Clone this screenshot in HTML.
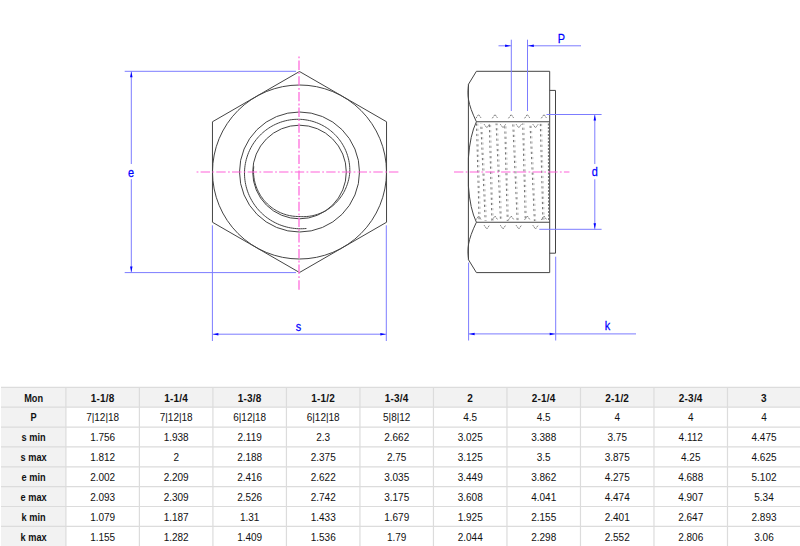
<!DOCTYPE html>
<html><head><meta charset="utf-8"><style>
html,body{margin:0;padding:0;background:#fff;}
body{width:800px;height:546px;overflow:hidden;position:relative;}
svg{position:absolute;left:0;top:0;}
</style></head><body>
<svg width="800" height="546" viewBox="0 0 800 546">
<polygon points="299.5,71.5 386.54,121.75 386.54,222.25 299.5,272.5 212.46,222.25 212.46,121.75" fill="none" stroke="#444" stroke-width="1.0"/>
<circle cx="299.5" cy="172" r="87" fill="none" stroke="#444" stroke-width="1.0"/>
<circle cx="299.5" cy="172" r="60" fill="none" stroke="#444" stroke-width="1.0"/>
<circle cx="299.5" cy="172" r="46.8" fill="none" stroke="#444" stroke-width="1.0"/>
<path d="M306.43,228.48 L304.46,228.64 L302.47,228.74 L300.49,228.77 L298.51,228.73 L296.53,228.63 L294.56,228.45 L292.6,228.2 L290.65,227.89 L288.71,227.51 L286.79,227.06 L284.88,226.54 L283,225.96 L281.14,225.32 L279.31,224.61 L277.5,223.84 L275.72,223 L273.97,222.1 L272.26,221.15 L270.58,220.13 L268.94,219.06 L267.34,217.94 L265.78,216.75 L264.26,215.52 L262.79,214.23 L261.36,212.9 L259.99,211.51 L258.66,210.08 L257.38,208.61 L256.16,207.09 L255,205.54 L253.89,203.94 L252.83,202.31 L251.84,200.64 L250.9,198.94 L250.02,197.21 L249.21,195.45 L248.46,193.67 L247.77,191.86 L247.14,190.03 L246.58,188.18 L246.09,186.31 L245.66,184.43 L245.3,182.54 L245,180.63 L244.77,178.72 L244.61,176.8 L244.52,174.88 L244.49,172.96 L244.53,171.04 L244.65,169.13 L244.84,167.22 L245.09,165.32 L245.4,163.43 L245.79,161.56 L246.23,159.7 L246.74,157.86 L247.32,156.05 L247.96,154.25 L248.65,152.48 L249.41,150.74 L250.23,149.03 L251.11,147.34 L252.04,145.69 L253.03,144.08 L254.08,142.5 L255.18,140.97 L256.33,139.47 L257.53,138.01 L258.78,136.6 L260.08,135.24 L261.42,133.92 L262.81,132.65 L264.24,131.44 L265.71,130.27 L267.22,129.16 L268.76,128.1 L270.34,127.09 L271.95,126.15 L273.59,125.26 L275.26,124.43 L276.96,123.66 L278.68,122.95 L280.42,122.3 L282.18,121.71 L283.96,121.19 L285.76,120.73 L287.57,120.33 L289.39,119.99 L291.22,119.72 L293.06,119.52 L294.9,119.37 L296.74,119.3 L298.58,119.28 L300.42,119.33 L302.25,119.45 L304.08,119.63 L305.9,119.88 L307.71,120.19 L309.5,120.56 L311.28,120.99 L313.04,121.48 L314.78,122.04 L316.49,122.65 L318.19,123.32 L319.85,124.05 L321.49,124.84 L323.1,125.69 L324.67,126.58 L326.22,127.54 L327.72,128.54 L329.19,129.6 L330.62,130.7 L332.01,131.85 L333.36,133.05 L334.66,134.3 L335.92,135.58 L337.13,136.91 L338.29,138.28 L339.4,139.69 L340.46,141.13 L341.47,142.61 L342.42,144.13 L343.32,145.67 L344.17,147.24 L344.96,148.84 L345.69,150.46 L346.37,152.11 L346.98,153.77 L347.54,155.46 L348.04,157.16 L348.47,158.88 L348.85,160.61 L349.16,162.35 L349.42,164.09 L349.61,165.85 L349.74,167.6 L349.81,169.36 L349.82,171.12 L349.73,172.88 L349.54,174.62 L349.29,176.36 L348.98,178.08 L348.61,179.78 L348.18,181.46 L347.69,183.13 L347.15,184.77 L346.55,186.39 L345.9,187.98 L345.2,189.54 L344.44,191.07 L343.63,192.58 L342.77,194.05 L341.86,195.48 L340.9,196.88 L339.9,198.24 L338.86,199.56 L337.77,200.84 L336.64,202.07 L335.47,203.27 L334.26,204.41 L333.02,205.52 L331.74,206.57 L330.43,207.58 L329.09,208.54 L327.72,209.44 L326.32,210.3 L324.89,211.1 L323.45,211.86 L321.98,212.56 L320.49,213.2 L318.99,213.79 L317.47,214.33 L315.93,214.81 L314.39,215.23 L312.83,215.6 L311.27,215.92 L309.7,216.18 L308.13,216.38 L306.55,216.52 L304.98,216.62 L303.41,216.65 L301.84,216.63 L300.28,216.56 L298.72,216.51 L297.17,216.49 L295.61,216.41 L294.06,216.28 L292.52,216.1 L290.97,215.86 L289.44,215.57 L287.92,215.23 L286.41,214.83 L284.91,214.37 L283.43,213.87 L281.96,213.32 L280.52,212.71 L279.09,212.05 L277.69,211.34 L276.31,210.59 L274.96,209.78 L273.64,208.93 L272.35,208.03 L271.09,207.09 L269.86,206.1 L268.66,205.07 L267.5,204 L266.38,202.88 L265.3,201.73 L264.26,200.54 L263.26,199.31 L262.3,198.05 L261.38,196.75 L260.51,195.43 L259.69,194.07 L258.91,192.68 L258.19,191.26 L257.51,189.82 L256.88,188.36 L256.31,186.87 L255.78,185.37 L255.31,183.84 L254.89,182.3 L254.53,180.74 L254.21,179.17 L253.96,177.59 L253.76,176 L253.61,174.4 L253.52,172.8 L253.49,171.2 L253.52,169.59 L253.61,167.99 L253.75,166.38" fill="none" stroke="#444" stroke-width="1.0"/>
<line x1="196.6" y1="172" x2="399" y2="172" stroke="#ff62da" stroke-width="1.2" stroke-dasharray="1.8 2.2 9.4 2.3"/>
<line x1="299" y1="56.5" x2="299" y2="290" stroke="#ff6ddc" stroke-width="1.3" stroke-dasharray="1.8 2.2 9.4 2.3"/>
<line x1="124.7" y1="71.3" x2="296" y2="71.3" stroke="#7c7cff" stroke-width="1.0"/>
<line x1="124.7" y1="272.6" x2="296" y2="272.6" stroke="#7c7cff" stroke-width="1.0"/>
<line x1="131.3" y1="71.3" x2="131.3" y2="164" stroke="#7c7cff" stroke-width="1.0"/>
<line x1="131.3" y1="179.2" x2="131.3" y2="272.6" stroke="#7c7cff" stroke-width="1.0"/>
<polygon points="131.3,71.8 130.05,77.3 132.55,77.3" fill="#0000ff"/>
<polygon points="131.3,272 130.05,266.5 132.55,266.5" fill="#0000ff"/>
<line x1="212.4" y1="225.3" x2="212.4" y2="341" stroke="#7c7cff" stroke-width="1.0"/>
<line x1="386.3" y1="225.3" x2="386.3" y2="341" stroke="#7c7cff" stroke-width="1.0"/>
<line x1="212.4" y1="334.2" x2="386.3" y2="334.2" stroke="#7c7cff" stroke-width="1.0"/>
<polygon points="212.9,334.2 218.4,332.95 218.4,335.45" fill="#0000ff"/>
<polygon points="385.8,334.2 380.3,332.95 380.3,335.45" fill="#0000ff"/>
<path d="M476.4,71.3 L549.7,71.3 L549.7,272.6 L476.4,272.6 L468.4,259.6 M468.4,84.39999999999999 L476.4,71.3 M476.4,121.75 L549.7,121.75 M476.4,222.25 L549.7,222.25 M468.4,84.39999999999999 L468.4,259.6 M468.59999999999997,84.39999999999999 C467.2,95 467.4,103 476.4,121.75 M476.4,121.75 Q470,135 468.4,158 L468.4,186 Q470,209 476.4,222.25 M468.59999999999997,259.6 C467.2,249 467.4,241 476.4,222.25 M549.7,90.4 L555.5,90.4 L555.5,253.2 L549.7,253.2" fill="none" stroke="#444" stroke-width="1.0"/>
<path d="M475.9,118.3 L478.6,114.5 L481.3,118.3 M475.9,219.8 L478.6,216 L481.3,219.8 M492.3,118.3 L495,114.5 L497.7,118.3 M492.3,219.8 L495,216 L497.7,219.8 M508.5,118.3 L511.2,114.5 L513.9,118.3 M508.5,219.8 L511.2,216 L513.9,219.8 M524.6,118.3 L527.3,114.5 L530,118.3 M524.6,219.8 L527.3,216 L530,219.8 M541.3,118.3 L544,114.5 L546.7,118.3 M541.3,219.8 L544,216 L546.7,219.8 M484.1,124.2 L486.8,127.8 L489.5,124.2 M484.1,225.2 L486.8,229 L489.5,225.2 M500.3,124.2 L503,127.8 L505.7,124.2 M500.3,225.2 L503,229 L505.7,225.2 M516.1,124.2 L518.8,127.8 L521.5,124.2 M516.1,225.2 L518.8,229 L521.5,225.2 M532.8,124.2 L535.5,127.8 L538.2,124.2 M532.8,225.2 L535.5,229 L538.2,225.2" fill="none" stroke="#666" stroke-width="0.9" stroke-dasharray="1.6 0.8"/>
<path d="M476.5,123.5 L479.1,221" fill="none" stroke="#707070" stroke-width="1.0" stroke-dasharray="2.2 3" stroke-dashoffset="0"/>
<path d="M477.8,123.5 L480.4,221" fill="none" stroke="#b0b0b0" stroke-width="0.8" stroke-dasharray="2.2 3" stroke-dashoffset="0"/>
<path d="M480.8,123.5 L485.2,221" fill="none" stroke="#707070" stroke-width="1.0" stroke-dasharray="2.2 3" stroke-dashoffset="1.9"/>
<path d="M482.1,123.5 L486.5,221" fill="none" stroke="#b0b0b0" stroke-width="0.8" stroke-dasharray="2.2 3" stroke-dashoffset="1.9"/>
<path d="M489.3,123.5 L491.9,221" fill="none" stroke="#707070" stroke-width="1.0" stroke-dasharray="2.2 3" stroke-dashoffset="3.8"/>
<path d="M490.6,123.5 L493.2,221" fill="none" stroke="#b0b0b0" stroke-width="0.8" stroke-dasharray="2.2 3" stroke-dashoffset="3.8"/>
<path d="M496.1,123.5 L500.5,221" fill="none" stroke="#707070" stroke-width="1.0" stroke-dasharray="2.2 3" stroke-dashoffset="5.7"/>
<path d="M497.4,123.5 L501.8,221" fill="none" stroke="#b0b0b0" stroke-width="0.8" stroke-dasharray="2.2 3" stroke-dashoffset="5.7"/>
<path d="M504.7,123.5 L507.3,221" fill="none" stroke="#707070" stroke-width="1.0" stroke-dasharray="2.2 3" stroke-dashoffset="7.6"/>
<path d="M506,123.5 L508.6,221" fill="none" stroke="#b0b0b0" stroke-width="0.8" stroke-dasharray="2.2 3" stroke-dashoffset="7.6"/>
<path d="M512.8,123.5 L517.2,221" fill="none" stroke="#707070" stroke-width="1.0" stroke-dasharray="2.2 3" stroke-dashoffset="9.5"/>
<path d="M514.1,123.5 L518.5,221" fill="none" stroke="#b0b0b0" stroke-width="0.8" stroke-dasharray="2.2 3" stroke-dashoffset="9.5"/>
<path d="M522.7,123.5 L525.3,221" fill="none" stroke="#707070" stroke-width="1.0" stroke-dasharray="2.2 3" stroke-dashoffset="11.4"/>
<path d="M524,123.5 L526.6,221" fill="none" stroke="#b0b0b0" stroke-width="0.8" stroke-dasharray="2.2 3" stroke-dashoffset="11.4"/>
<path d="M530,123.5 L534.4,221" fill="none" stroke="#707070" stroke-width="1.0" stroke-dasharray="2.2 3" stroke-dashoffset="13.3"/>
<path d="M531.3,123.5 L535.7,221" fill="none" stroke="#b0b0b0" stroke-width="0.8" stroke-dasharray="2.2 3" stroke-dashoffset="13.3"/>
<path d="M540.3,123.5 L542.9,221" fill="none" stroke="#707070" stroke-width="1.0" stroke-dasharray="2.2 3" stroke-dashoffset="15.2"/>
<path d="M541.6,123.5 L544.2,221" fill="none" stroke="#b0b0b0" stroke-width="0.8" stroke-dasharray="2.2 3" stroke-dashoffset="15.2"/>
<path d="M548.4,123.5 L548.6,221" fill="none" stroke="#777" stroke-width="1.1" stroke-dasharray="2 1.5"/>
<line x1="454" y1="172" x2="569.4" y2="172" stroke="#ff62da" stroke-width="1.2" stroke-dasharray="1.8 2.2 9.4 2.3" stroke-dashoffset="4"/>
<line x1="511.3" y1="39.7" x2="511.3" y2="111" stroke="#7c7cff" stroke-width="1.0"/>
<line x1="527.5" y1="39.7" x2="527.5" y2="111" stroke="#7c7cff" stroke-width="1.0"/>
<line x1="498.5" y1="45.8" x2="511.3" y2="45.8" stroke="#7c7cff" stroke-width="1.0"/>
<line x1="527.5" y1="45.8" x2="581" y2="45.8" stroke="#7c7cff" stroke-width="1.0"/>
<polygon points="510.6,45.8 505.1,44.55 505.1,47.05" fill="#0000ff"/>
<polygon points="528.3,45.8 533.8,44.55 533.8,47.05" fill="#0000ff"/>
<line x1="546.5" y1="114.5" x2="601.6" y2="114.5" stroke="#7c7cff" stroke-width="1.0"/>
<line x1="539.3" y1="229.3" x2="601.6" y2="229.3" stroke="#7c7cff" stroke-width="1.0"/>
<line x1="594.8" y1="114.5" x2="594.8" y2="164" stroke="#7c7cff" stroke-width="1.0"/>
<line x1="594.8" y1="179.3" x2="594.8" y2="229.3" stroke="#7c7cff" stroke-width="1.0"/>
<polygon points="594.8,115 593.55,120.5 596.05,120.5" fill="#0000ff"/>
<polygon points="594.8,228.8 593.55,223.3 596.05,223.3" fill="#0000ff"/>
<line x1="468.6" y1="262.6" x2="468.6" y2="340.5" stroke="#7c7cff" stroke-width="1.0"/>
<line x1="555.7" y1="256.7" x2="555.7" y2="340.5" stroke="#7c7cff" stroke-width="1.0"/>
<line x1="468.6" y1="333.9" x2="636" y2="333.9" stroke="#7c7cff" stroke-width="1.0"/>
<polygon points="469.1,333.9 474.6,332.65 474.6,335.15" fill="#0000ff"/>
<polygon points="555.2,333.9 549.7,332.65 549.7,335.15" fill="#0000ff"/>
<text transform="translate(131,177.2) scale(0.84,1)" font-family="Liberation Sans, sans-serif" font-size="13" fill="#0000ff" stroke="#0000ff" stroke-width="0.25" text-anchor="middle">e</text>
<text transform="translate(298.6,330.5) scale(0.84,1)" font-family="Liberation Sans, sans-serif" font-size="13" fill="#0000ff" stroke="#0000ff" stroke-width="0.25" text-anchor="middle">s</text>
<text transform="translate(561.3,42.6) scale(0.84,1)" font-family="Liberation Sans, sans-serif" font-size="13" fill="#0000ff" stroke="#0000ff" stroke-width="0.25" text-anchor="middle">P</text>
<text transform="translate(594.8,176.4) scale(0.84,1)" font-family="Liberation Sans, sans-serif" font-size="13" fill="#0000ff" stroke="#0000ff" stroke-width="0.25" text-anchor="middle">d</text>
<text transform="translate(607.4,329.9) scale(0.84,1)" font-family="Liberation Sans, sans-serif" font-size="13" fill="#0000ff" stroke="#0000ff" stroke-width="0.25" text-anchor="middle">k</text>
<g font-family="Liberation Sans, sans-serif" font-size="10" fill="#111">
<rect x="1" y="387.3" width="800" height="19.87" fill="#f2f2f2"/>
<rect x="1" y="387.3" width="64.9" height="160.96" fill="#f2f2f2"/>
<path d="M1,387.3 L800,387.3 M1,407.17 L800,407.17 M1,427.04 L800,427.04 M1,446.91 L800,446.91 M1,466.78 L800,466.78 M1,486.65 L800,486.65 M1,506.52 L800,506.52 M1,526.39 L800,526.39 M65.9,387.3 L65.9,546 M139.41,387.3 L139.41,546 M212.92,387.3 L212.92,546 M286.43,387.3 L286.43,546 M359.94,387.3 L359.94,546 M433.45,387.3 L433.45,546 M506.96,387.3 L506.96,546 M580.47,387.3 L580.47,546 M653.98,387.3 L653.98,546 M727.49,387.3 L727.49,546" stroke="#dcdcdc" stroke-width="1.2" fill="none"/>
<text transform="translate(33.6,401.54) scale(0.92,1)" text-anchor="middle" font-weight="bold">Mon</text>
<text x="102.66" y="401.54" text-anchor="middle" font-weight="bold" letter-spacing="0.2">1-1/8</text>
<text x="176.17" y="401.54" text-anchor="middle" font-weight="bold" letter-spacing="0.2">1-1/4</text>
<text x="249.68" y="401.54" text-anchor="middle" font-weight="bold" letter-spacing="0.2">1-3/8</text>
<text x="323.19" y="401.54" text-anchor="middle" font-weight="bold" letter-spacing="0.2">1-1/2</text>
<text x="396.7" y="401.54" text-anchor="middle" font-weight="bold" letter-spacing="0.2">1-3/4</text>
<text x="470.21" y="401.54" text-anchor="middle" font-weight="bold" letter-spacing="0.2">2</text>
<text x="543.72" y="401.54" text-anchor="middle" font-weight="bold" letter-spacing="0.2">2-1/4</text>
<text x="617.23" y="401.54" text-anchor="middle" font-weight="bold" letter-spacing="0.2">2-1/2</text>
<text x="690.74" y="401.54" text-anchor="middle" font-weight="bold" letter-spacing="0.2">2-3/4</text>
<text x="764" y="401.54" text-anchor="middle" font-weight="bold" letter-spacing="0.2">3</text>
<text transform="translate(33.6,421.41) scale(0.92,1)" text-anchor="middle" font-weight="bold">P</text>
<text x="102.66" y="421.41" text-anchor="middle">7|12|18</text>
<text x="176.17" y="421.41" text-anchor="middle">7|12|18</text>
<text x="249.68" y="421.41" text-anchor="middle">6|12|18</text>
<text x="323.19" y="421.41" text-anchor="middle">6|12|18</text>
<text x="396.7" y="421.41" text-anchor="middle">5|8|12</text>
<text x="470.21" y="421.41" text-anchor="middle">4.5</text>
<text x="543.72" y="421.41" text-anchor="middle">4.5</text>
<text x="617.23" y="421.41" text-anchor="middle">4</text>
<text x="690.74" y="421.41" text-anchor="middle">4</text>
<text x="764" y="421.41" text-anchor="middle">4</text>
<text transform="translate(33.6,441.28) scale(0.92,1)" text-anchor="middle" font-weight="bold">s min</text>
<text x="102.66" y="441.28" text-anchor="middle">1.756</text>
<text x="176.17" y="441.28" text-anchor="middle">1.938</text>
<text x="249.68" y="441.28" text-anchor="middle">2.119</text>
<text x="323.19" y="441.28" text-anchor="middle">2.3</text>
<text x="396.7" y="441.28" text-anchor="middle">2.662</text>
<text x="470.21" y="441.28" text-anchor="middle">3.025</text>
<text x="543.72" y="441.28" text-anchor="middle">3.388</text>
<text x="617.23" y="441.28" text-anchor="middle">3.75</text>
<text x="690.74" y="441.28" text-anchor="middle">4.112</text>
<text x="764" y="441.28" text-anchor="middle">4.475</text>
<text transform="translate(33.6,461.15) scale(0.92,1)" text-anchor="middle" font-weight="bold">s max</text>
<text x="102.66" y="461.15" text-anchor="middle">1.812</text>
<text x="176.17" y="461.15" text-anchor="middle">2</text>
<text x="249.68" y="461.15" text-anchor="middle">2.188</text>
<text x="323.19" y="461.15" text-anchor="middle">2.375</text>
<text x="396.7" y="461.15" text-anchor="middle">2.75</text>
<text x="470.21" y="461.15" text-anchor="middle">3.125</text>
<text x="543.72" y="461.15" text-anchor="middle">3.5</text>
<text x="617.23" y="461.15" text-anchor="middle">3.875</text>
<text x="690.74" y="461.15" text-anchor="middle">4.25</text>
<text x="764" y="461.15" text-anchor="middle">4.625</text>
<text transform="translate(33.6,481.02) scale(0.92,1)" text-anchor="middle" font-weight="bold">e min</text>
<text x="102.66" y="481.02" text-anchor="middle">2.002</text>
<text x="176.17" y="481.02" text-anchor="middle">2.209</text>
<text x="249.68" y="481.02" text-anchor="middle">2.416</text>
<text x="323.19" y="481.02" text-anchor="middle">2.622</text>
<text x="396.7" y="481.02" text-anchor="middle">3.035</text>
<text x="470.21" y="481.02" text-anchor="middle">3.449</text>
<text x="543.72" y="481.02" text-anchor="middle">3.862</text>
<text x="617.23" y="481.02" text-anchor="middle">4.275</text>
<text x="690.74" y="481.02" text-anchor="middle">4.688</text>
<text x="764" y="481.02" text-anchor="middle">5.102</text>
<text transform="translate(33.6,500.89) scale(0.92,1)" text-anchor="middle" font-weight="bold">e max</text>
<text x="102.66" y="500.89" text-anchor="middle">2.093</text>
<text x="176.17" y="500.89" text-anchor="middle">2.309</text>
<text x="249.68" y="500.89" text-anchor="middle">2.526</text>
<text x="323.19" y="500.89" text-anchor="middle">2.742</text>
<text x="396.7" y="500.89" text-anchor="middle">3.175</text>
<text x="470.21" y="500.89" text-anchor="middle">3.608</text>
<text x="543.72" y="500.89" text-anchor="middle">4.041</text>
<text x="617.23" y="500.89" text-anchor="middle">4.474</text>
<text x="690.74" y="500.89" text-anchor="middle">4.907</text>
<text x="764" y="500.89" text-anchor="middle">5.34</text>
<text transform="translate(33.6,520.75) scale(0.92,1)" text-anchor="middle" font-weight="bold">k min</text>
<text x="102.66" y="520.75" text-anchor="middle">1.079</text>
<text x="176.17" y="520.75" text-anchor="middle">1.187</text>
<text x="249.68" y="520.75" text-anchor="middle">1.31</text>
<text x="323.19" y="520.75" text-anchor="middle">1.433</text>
<text x="396.7" y="520.75" text-anchor="middle">1.679</text>
<text x="470.21" y="520.75" text-anchor="middle">1.925</text>
<text x="543.72" y="520.75" text-anchor="middle">2.155</text>
<text x="617.23" y="520.75" text-anchor="middle">2.401</text>
<text x="690.74" y="520.75" text-anchor="middle">2.647</text>
<text x="764" y="520.75" text-anchor="middle">2.893</text>
<text transform="translate(33.6,540.62) scale(0.92,1)" text-anchor="middle" font-weight="bold">k max</text>
<text x="102.66" y="540.62" text-anchor="middle">1.155</text>
<text x="176.17" y="540.62" text-anchor="middle">1.282</text>
<text x="249.68" y="540.62" text-anchor="middle">1.409</text>
<text x="323.19" y="540.62" text-anchor="middle">1.536</text>
<text x="396.7" y="540.62" text-anchor="middle">1.79</text>
<text x="470.21" y="540.62" text-anchor="middle">2.044</text>
<text x="543.72" y="540.62" text-anchor="middle">2.298</text>
<text x="617.23" y="540.62" text-anchor="middle">2.552</text>
<text x="690.74" y="540.62" text-anchor="middle">2.806</text>
<text x="764" y="540.62" text-anchor="middle">3.06</text>
</g>
</svg>
</body></html>
